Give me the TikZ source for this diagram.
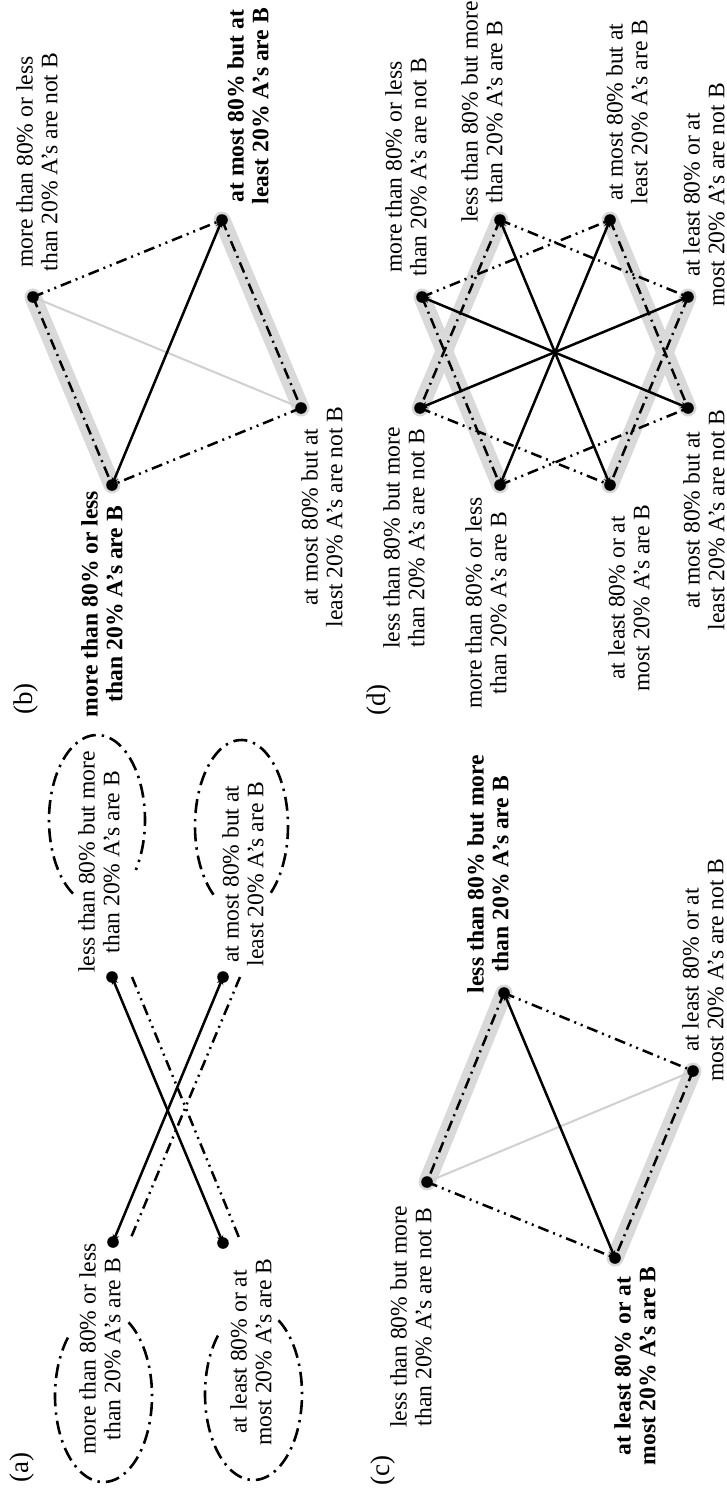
\documentclass[tikz,border=0pt]{standalone}
\usepackage{fontspec}
\setmainfont{Liberation Serif}
\usetikzlibrary{arrows.meta}
\definecolor{bandgray}{RGB}{217,217,217}
\definecolor{faintgray}{RGB}{208,208,208}
\begin{document}
\begin{tikzpicture}[x=0.5pt,y=-0.5pt,
  lbl/.style={rotate=90, align=center, inner sep=0pt, font=\fontsize{11.8}{12.4}\selectfont},
  bl/.style={rotate=90, align=center, inner sep=0pt, font=\fontsize{11.8}{12.4}\selectfont\bfseries},
  tag/.style={rotate=90, inner sep=0pt, font=\fontsize{13.5}{14}\selectfont},
  dot/.style={circle, fill=black, inner sep=0pt, minimum size=5.8pt},
  band/.style={line width=8.5pt, draw=bandgray, line cap=round},
  faint/.style={line width=1pt, draw=faintgray},
  solidarrow/.style={line width=1.25pt, {Stealth[length=3.8pt,width=3.4pt]}-{Stealth[length=3.8pt,width=3.4pt]}},
  dashdot/.style={line width=1.25pt, dash pattern=on 5.5pt off 2.5pt on 1pt off 2.5pt},
  dashdotdot/.style={line width=1.25pt, dash pattern=on 5.5pt off 2.5pt on 1pt off 2.5pt on 1pt off 2.5pt},
  ringdash/.style={line width=1.3pt, dash pattern=on 7pt off 3pt on 1.2pt off 3pt},
]
\fill[white] (0,0) rectangle (727,1493);
\useasboundingbox (0,0) rectangle (727,1493);

% ---------------- panel (b) ----------------
\coordinate (b1) at (33,297);
\coordinate (b2) at (222,220);
\coordinate (b3) at (301,408);
\coordinate (b4) at (112,485);
\draw[band] (b1) -- (b4);
\draw[band] (b2) -- (b3);
\draw[faint] (b1) -- (b3);
\draw[dashdot] (b1) -- (b4);
\draw[dashdot] (b2) -- (b3);
\draw[dashdotdot] (b1) -- (b2);
\draw[dashdotdot] (b3) -- (b4);
\draw[solidarrow] (b2) -- (b4);
\foreach \p in {b1,b2,b3,b4} \node[dot] at (\p) {};
\node[lbl] (lb1) at (37,162) {more than 80\% or less\\than 20\% A’s are not B};
\node[bl]  (lb2) at (248,106) {at most 80\% but at\\least 20\%  A’s are B};
\node[lbl] (lb3) at (322,517) {at most 80\% but at\\least 20\% A’s are not B};
\node[bl]  (lb4) at (102,604) {more than 80\% or less\\than 20\%  A’s are B};
\node[tag] (tb) at (26,699) {(b)};

% ---------------- panel (d) ----------------
\coordinate (d1) at (422,297);
\coordinate (d2) at (500,220);
\coordinate (d3) at (610,220);
\coordinate (d4) at (688,297);
\coordinate (d5) at (420,408);
\coordinate (d6) at (500,485);
\coordinate (d7) at (610,485);
\coordinate (d8) at (688,408);
\draw[band] (d1) -- (d6);
\draw[band] (d2) -- (d5);
\draw[band] (d3) -- (d8);
\draw[band] (d4) -- (d7);
\draw[dashdot] (d1) -- (d6);
\draw[dashdot] (d2) -- (d5);
\draw[dashdot] (d3) -- (d8);
\draw[dashdot] (d4) -- (d7);
\draw[dashdotdot] (d1) -- (d3);
\draw[dashdotdot] (d2) -- (d4);
\draw[dashdotdot] (d5) -- (d7);
\draw[dashdotdot] (d6) -- (d8);
\draw[solidarrow] (d1) -- (d8);
\draw[solidarrow] (d2) -- (d7);
\draw[solidarrow] (d3) -- (d6);
\draw[solidarrow] (d4) -- (d5);
\foreach \p in {d1,d2,d3,d4,d5,d6,d7,d8} \node[dot] at (\p) {};
\node[lbl] (ld1) at (406,167) {more than 80\% or less\\than 20\% A’s are not B};
\node[lbl] (ld2) at (482,112) {less than 80\% but more\\than 20\% A’s are B};
\node[lbl] (ld3) at (627,112) {at most 80\% but at\\least 20\% A’s are B};
\node[lbl] (ld4) at (704,195) {at least 80\% or at\\most 20\% A’s are not B};
\node[lbl] (ld5) at (404,538) {less than 80\% but more\\than 20\% A’s are not B};
\node[lbl] (ld6) at (486,603) {more than 80\% or less\\than 20\% A’s are B};
\node[lbl] (ld7) at (629,598) {at least 80\% or at\\most 20\% A’s are B};
\node[lbl] (ld8) at (704,520) {at most 80\% but at\\least 20\% A’s are not B};
\node[tag] (td) at (379,700) {(d)};

% ---------------- panel (a) ----------------
\coordinate (a1) at (112,977);
\coordinate (a2) at (223,977);
\coordinate (a3) at (113,1242);
\coordinate (a4) at (223,1243);
\coordinate (h1) at (132,977);
\coordinate (h4) at (240,1240);
\coordinate (h2) at (240,977);
\coordinate (h3) at (130,1240);
\draw[ringdash] plot[domain=120:396, samples=90, variable=\t] ({97+48*cos(\t)}, {820+85*sin(\t)});
\draw[ringdash] plot[domain=127:412, samples=90, variable=\t] ({241.5+46.5*cos(\t)}, {826+86*sin(\t)});
\draw[ringdash] plot[domain=-59:227, samples=90, variable=\t] ({103.5+48.5*cos(\t)}, {1396+86*sin(\t)});
\draw[ringdash] plot[domain=-59:226, samples=90, variable=\t] ({253.5+48.5*cos(\t)}, {1394+86*sin(\t)});
\draw[solidarrow] (a1) -- (a4);
\draw[solidarrow] (a2) -- (a3);
\draw[dashdotdot] (h1) -- (h4);
\draw[dashdotdot] (h2) -- (h3);
\foreach \p in {a1,a2,a3,a4} \node[dot] at (\p) {};
\node[lbl] (la1) at (99,862) {less than 80\% but more\\than 20\% A’s are B};
\node[lbl] (la2) at (243,874) {at most 80\% but at\\least 20\% A’s are B};
\node[lbl] (la3) at (100,1349) {more than 80\% or less\\than 20\% A’s are B};
\node[lbl] (la4) at (251,1352) {at least 80\% or at\\most 20\% A’s are B};
\node[tag] (ta) at (22,1467) {(a)};

% ---------------- panel (c) ----------------
\coordinate (c1) at (504,993);
\coordinate (c2) at (693,1071);
\coordinate (c3) at (427,1182);
\coordinate (c4) at (615,1258);
\draw[band] (c1) -- (c3);
\draw[band] (c2) -- (c4);
\draw[faint] (c3) -- (c2);
\draw[dashdot] (c1) -- (c3);
\draw[dashdot] (c2) -- (c4);
\draw[dashdotdot] (c1) -- (c2);
\draw[dashdotdot] (c3) -- (c4);
\draw[solidarrow] (c1) -- (c4);
\foreach \p in {c1,c2,c3,c4} \node[dot] at (\p) {};
\node[bl]  (lc1) at (488,874) {less than 80\% but more\\than 20\%  A’s are B};
\node[lbl] (lc2) at (703,970) {at least 80\% or at\\most 20\% A’s are not B};
\node[lbl] (lc3) at (411,1317) {less than 80\% but more\\than 20\% A’s are not B};
\node[bl]  (lc4) at (635,1366) {at least 80\% or at\\most 20\%  A’s are B};
\node[tag] (tc) at (383,1470) {(c)};
\end{tikzpicture}
\end{document}
